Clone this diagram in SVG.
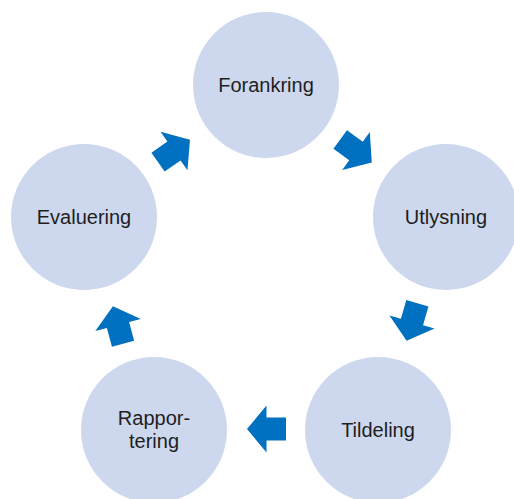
<svg xmlns="http://www.w3.org/2000/svg" xmlns:xlink="http://www.w3.org/1999/xlink" width="514" height="499" viewBox="0 0 514 499">
  <style>
    .node circle { fill: #CDD7EE; }
    .node text { font-family: "Liberation Sans", Arial, sans-serif; font-size: 20px; fill: #1e1e1e; text-anchor: middle; }
    .arrow { fill: #0070C0; }
  </style>
  <defs>
    <path id="blockArrow" d="M -19.5,-11.5 L 0,-11.5 L 0,-23.5 L 19.5,0 L 0,23.5 L 0,11.5 L -19.5,11.5 Z"/>
  </defs>
  <rect width="514" height="499" fill="#ffffff"/>

  <g id="forankring" class="node">
    <circle cx="266" cy="85" r="73"/>
    <text x="266" y="92">Forankring</text>
  </g>
  <g id="utlysning" class="node">
    <circle cx="446" cy="217" r="73"/>
    <text x="446" y="224">Utlysning</text>
  </g>
  <g id="tildeling" class="node">
    <circle cx="378" cy="430" r="73"/>
    <text x="378" y="437">Tildeling</text>
  </g>
  <g id="rapportering" class="node">
    <circle cx="154" cy="430" r="73"/>
    <text x="154" y="425">Rappor-</text>
    <text x="154" y="448">tering</text>
  </g>
  <g id="evaluering" class="node">
    <circle cx="84" cy="217" r="73"/>
    <text x="84" y="224">Evaluering</text>
  </g>

  <g id="connectors" class="arrow">
    <use xlink:href="#blockArrow" transform="translate(356,151) rotate(36)"/>
    <use xlink:href="#blockArrow" transform="translate(412,322) rotate(106)"/>
    <use xlink:href="#blockArrow" transform="translate(266.5,429) rotate(180)"/>
    <use xlink:href="#blockArrow" transform="translate(118,325) rotate(-105)"/>
    <use xlink:href="#blockArrow" transform="translate(174,151) rotate(-35)"/>
  </g>
</svg>
